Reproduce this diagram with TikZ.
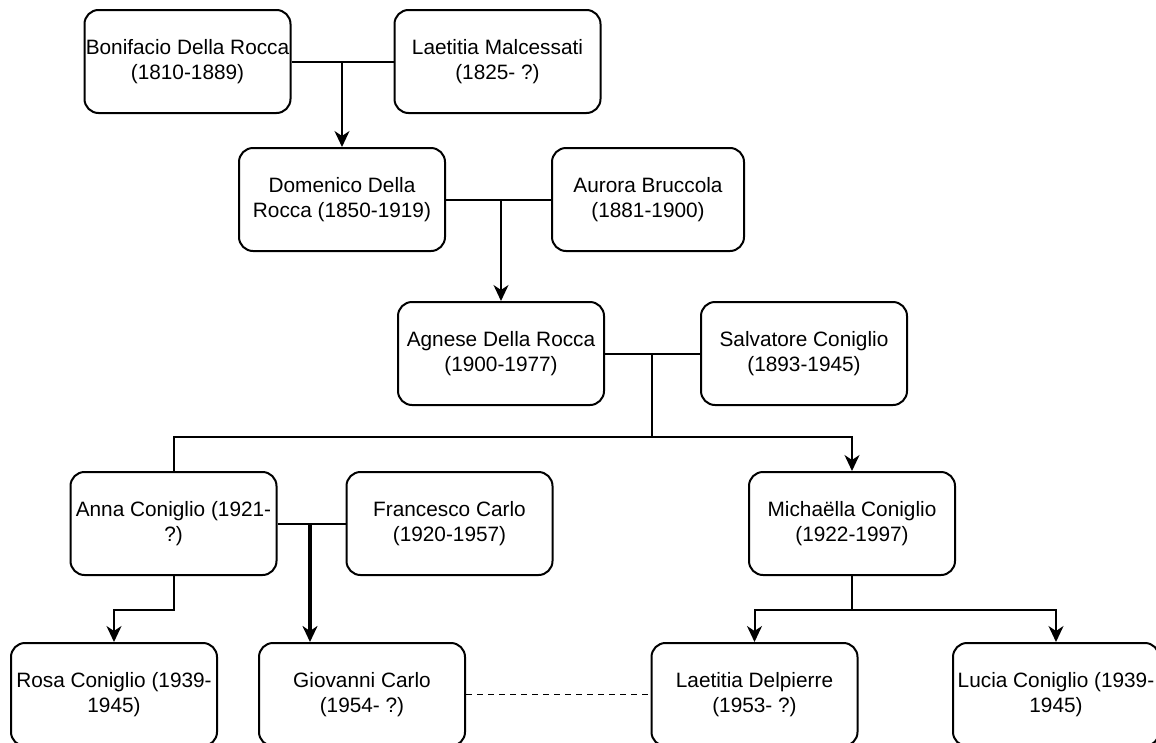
\documentclass[tikz,border=0pt]{standalone}
\usepackage{fontspec}
\setmainfont{Liberation Sans}
\usetikzlibrary{arrows.meta}
\begin{document}
\begin{tikzpicture}[
      x=1pt, y=-1pt,
      person/.style={draw, rounded corners=14pt, line width=2pt, minimum width=206pt,
        minimum height=103pt, inner sep=0pt, align=center, font=\fontsize{20.8}{25.5}\selectfont},
      couple/.style={draw, line width=2pt},
      descent/.style={draw, line width=2pt, -{Stealth[length=16pt,width=15pt,inset=5pt]}},
      heir/.style={descent, line width=3.2pt},
      spouse/.style={draw, line width=1.5pt, dash pattern=on 6pt off 5pt}
      ]
      \useasboundingbox (0,0) rectangle (1156,742);
      \node[person] (boni) at (187.5,61.5) {Bonifacio Della Rocca\\(1810-1889)};
      \node[person] (laem) at (497.5,61.5) {Laetitia Malcessati\\(1825- ?)};
      \node[person] (dom) at (342,199.5) {Domenico Della\\Rocca (1850-1919)};
      \node[person, minimum width=192pt] (aur) at (648,199.5) {Aurora Bruccola\\(1881-1900)};
      \node[person] (agn) at (501,353.5) {Agnese Della Rocca\\(1900-1977)};
      \node[person] (salv) at (804,353.5) {Salvatore Coniglio\\(1893-1945)};
      \node[person] (anna) at (173.5,523.5) {Anna Coniglio (1921-\\?)};
      \node[person] (fran) at (449.5,523.5) {Francesco Carlo\\(1920-1957)};
      \node[person] (mich) at (852,523.5) {Micha\"ella Coniglio\\(1922-1997)};
      \node[person] (rosa) at (114,694.5) {Rosa Coniglio (1939-\\1945)};
      \node[person] (gio) at (362,694.5) {Giovanni Carlo\\(1954- ?)};
      \node[person] (laed) at (754.5,694.5) {Laetitia Delpierre\\(1953- ?)};
      \node[person] (luc) at (1056,694.5) {Lucia Coniglio (1939-\\1945)};
      \coordinate (kids) at (652,437);
      \coordinate (j4) at (310,523.5);
      \draw[couple] (boni) -- (laem);
      \draw[descent] (dom.north |- boni) -- (dom.north);
      \draw[couple] (dom) -- (aur);
      \draw[descent] (agn.north |- dom) -- (agn.north);
      \draw[couple] (agn) -- (salv);
      \draw[couple] (kids |- agn) -- (kids);
      \draw[couple] (kids) -| (anna.north);
      \draw[descent] (kids) -| (mich.north);
      \draw[couple] (anna) -- (fran);
      \draw[heir] (j4) -- (j4 |- gio.north);
      \draw[descent] (anna.south) -- ++(0,34) -| (rosa.north);
      \draw[couple] (mich.south) -- ++(0,34) coordinate (m);
      \draw[descent] (m) -| (laed.north);
      \draw[descent] (m) -| (luc.north);
      \draw[spouse] (gio) -- (laed);
\end{tikzpicture}
\end{document}
